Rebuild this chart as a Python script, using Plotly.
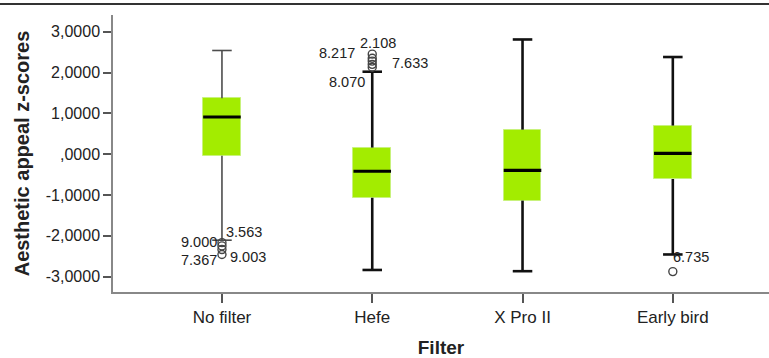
import plotly.graph_objects as go

# ---- data ----
categories = ["No filter", "Hefe", "X Pro II", "Early bird"]
q1 = [-0.04, -1.07, -1.14, -0.61]
median = [0.91, -0.42, -0.40, 0.02]
q3 = [1.37, 0.16, 0.60, 0.70]
lower_whisker = [-2.11, -2.84, -2.87, -2.46]
upper_whisker = [2.54, 2.02, 2.81, 2.38]

outlier_cat = [0, 0, 0, 0, 1, 1, 1, 1, 1, 3]
outlier_val = [-2.17, -2.25, -2.34, -2.46, 2.45, 2.35, 2.28, 2.20, 2.13, -2.88]

label_text = ["9.000", "3.563", "7.367", "9.003", "2.108", "8.217", "7.633", "8.070", "6.735"]
label_cat = [0, 0, 0, 0, 1, 1, 1, 1, 3]
label_val = [-2.15, -1.90, -2.60, -2.52, 2.72, 2.48, 2.23, 1.76, -2.52]

y_tick_vals = [-3, -2, -1, 0, 1, 2, 3]
y_tick_text = ["-3,0000", "-2,0000", "-1,0000", ",0000", "1,0000", "2,0000", "3,0000"]

# ---- style ----
FONT = "Liberation Sans"
GREEN = "#a3ec00"
BOX_W = 0.25
CAP = 0.065
label_style = [  # (xanchor, xshift)
    ("right", -3), ("left", 2), ("right", -3), ("left", 6),
    ("center", 6), ("right", -15), ("left", 18), ("right", -5),
    ("left", -2),
]

pos = list(range(len(categories)))
fig = go.Figure()

# boxes
fig.add_trace(go.Bar(
    x=pos, base=q1, y=[b - a for a, b in zip(q1, q3)], width=BOX_W,
    marker=dict(color=GREEN, line=dict(color="#c8f27c", width=1)),
    showlegend=False, hoverinfo="skip",
))


def whisker_xy(idxs):
    xs, ys = [], []
    for i in idxs:
        xs += [i, i, None, i, i, None,
               i - CAP, i + CAP, None, i - CAP, i + CAP, None]
        ys += [q3[i], upper_whisker[i], None, q1[i], lower_whisker[i], None,
               upper_whisker[i], upper_whisker[i], None,
               lower_whisker[i], lower_whisker[i], None]
    return xs, ys


xs, ys = whisker_xy([0])
fig.add_trace(go.Scatter(x=xs, y=ys, mode="lines",
                         line=dict(color="#4d4d4d", width=1.6),
                         showlegend=False, hoverinfo="skip"))
xs, ys = whisker_xy([1, 2, 3])
fig.add_trace(go.Scatter(x=xs, y=ys, mode="lines",
                         line=dict(color="#111111", width=2.6),
                         showlegend=False, hoverinfo="skip"))

# medians
mx, my = [], []
for i in pos:
    mx += [i - BOX_W / 2, i + BOX_W / 2, None]
    my += [median[i], median[i], None]
fig.add_trace(go.Scatter(x=mx, y=my, mode="lines",
                         line=dict(color="black", width=3.2),
                         showlegend=False, hoverinfo="skip"))

# outliers
fig.add_trace(go.Scatter(
    x=outlier_cat, y=outlier_val, mode="markers",
    marker=dict(symbol="circle-open", size=8, color="#444444",
                line=dict(width=1.4, color="#444444")),
    showlegend=False, hoverinfo="skip",
))

for t, c, v, (xa, xsft) in zip(label_text, label_cat, label_val, label_style):
    fig.add_annotation(x=c, y=v, text=t, showarrow=False, xanchor=xa,
                       yanchor="middle", xshift=xsft,
                       font=dict(family=FONT, size=14.5, color="#222222"))

fig.add_shape(type="line", xref="paper", yref="paper",
              x0=-0.2, x1=1.0, y0=1.0397, y1=1.0397,
              line=dict(color="#333333", width=2))

fig.update_layout(
    width=769, height=358,
    margin=dict(l=113, r=0, t=15, b=66),
    paper_bgcolor="white", plot_bgcolor="white",
    font=dict(family=FONT, color="#222222"),
    bargap=0,
)
fig.update_xaxes(
    range=[-0.725, 3.64], tickvals=pos, ticktext=categories,
    showline=True, linecolor="#888888", linewidth=1.5,
    ticks="outside", ticklen=9, tickcolor="#555555", tickwidth=1.5,
    showgrid=False, zeroline=False,
    tickfont=dict(family=FONT, size=17, color="#222222"),
    title=dict(text="<b>Filter</b>", font=dict(family=FONT, size=19, color="#222222"),
               standoff=15),
)
fig.update_yaxes(
    range=[-3.38, 3.41], tickvals=y_tick_vals, ticktext=y_tick_text,
    showline=True, linecolor="#888888", linewidth=1.5,
    ticks="outside", ticklen=8, tickcolor="#555555", tickwidth=1.5,
    showgrid=False, zeroline=False,
    tickfont=dict(family=FONT, size=16, color="#222222"),
    title=dict(text="<b>Aesthetic appeal z-scores</b>",
               font=dict(family=FONT, size=20, color="#222222"), standoff=11),
)

fig.write_html("out.html")
